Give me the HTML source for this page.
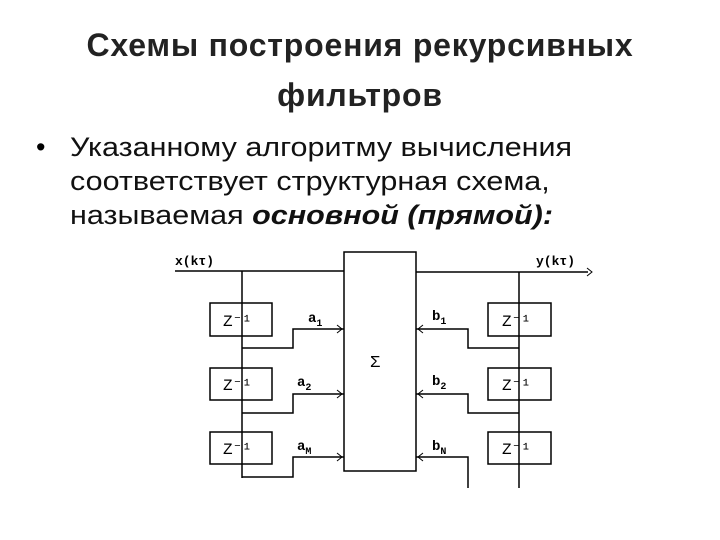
<!DOCTYPE html>
<html><head><meta charset="utf-8"><style>
body{margin:0;width:720px;height:540px;background:#fff;overflow:hidden;font-family:"Liberation Sans",sans-serif;position:relative}
.t{position:absolute;left:0;width:720px;text-align:center;font-size:32px;font-weight:bold;letter-spacing:0.8px;color:#222;top:20px;line-height:50px}
.b{position:absolute;left:70px;top:130px;font-size:27px;line-height:34px;color:#111;transform:scaleX(1.13);transform-origin:0 0;white-space:nowrap}
.dot{position:absolute;left:36px;top:130px;font-size:27px;line-height:34px}
</style></head><body>
<div class="t">Схемы построения рекурсивных<br>фильтров</div>
<div class="dot">•</div>
<div class="b">Указанному алгоритму вычисления<br>соответствует структурная схема,<br>называемая <b><i>основной (прямой):</i></b></div>
<svg width="720" height="540" style="position:absolute;left:0;top:0" font-family="Liberation Mono,monospace" font-size="13" fill="#000">
<g stroke="#000" stroke-width="1.5" fill="none">
<rect x="344" y="252" width="72" height="219"/>
<line x1="175" y1="271" x2="344" y2="271"/>
<line x1="416" y1="272" x2="588" y2="272"/>
<line x1="242" y1="271" x2="242" y2="478"/>
<line x1="519" y1="272" x2="519" y2="488"/>
<rect x="210" y="303" width="62" height="33"/><rect x="210" y="368" width="62" height="32"/><rect x="210" y="432" width="62" height="32"/>
<rect x="488" y="303" width="63" height="33"/><rect x="488" y="368" width="63" height="32"/><rect x="488" y="432" width="63" height="32"/>
<polyline points="242,348 293,348 293,329 344,329"/>
<polyline points="242,413 293,413 293,394 344,394"/>
<polyline points="242,477 293,477 293,457 344,457"/>
<polyline points="519,348 468,348 468,329 416,329"/>
<polyline points="519,413 468,413 468,394 416,394"/>
<polyline points="468,488 468,457 416,457"/>
<g stroke-width="1">
<polyline points="337,325 342,329 337,333"/><polyline points="337,390 342,394 337,398"/><polyline points="337,453 342,457 337,461"/>
<polyline points="423,325 418,329 423,333"/><polyline points="423,390 418,394 423,398"/><polyline points="423,453 418,457 423,461"/>
<polyline points="587,268 592,272 587,276"/>
</g></g>
<text x="175" y="265" font-weight="bold">x(kτ)</text>
<text x="536" y="265" font-weight="bold">y(kτ)</text>
<g font-size="16"><text x="223" y="326">Z⁻¹</text><text x="223" y="390">Z⁻¹</text><text x="223" y="454">Z⁻¹</text>
<text x="502" y="326">Z⁻¹</text><text x="502" y="390">Z⁻¹</text><text x="502" y="454">Z⁻¹</text></g>
<g font-weight="bold" font-size="14">
<text x="308" y="322">a<tspan font-size="10" dy="4">1</tspan></text>
<text x="297" y="386">a<tspan font-size="10" dy="4">2</tspan></text>
<text x="297" y="450">a<tspan font-size="10" dy="4">M</tspan></text>
<text x="432" y="320">b<tspan font-size="10" dy="4">1</tspan></text>
<text x="432" y="385">b<tspan font-size="10" dy="4">2</tspan></text>
<text x="432" y="450">b<tspan font-size="10" dy="4">N</tspan></text></g>
<text x="370" y="367" font-size="17">Σ</text>
</svg>
</body></html>
